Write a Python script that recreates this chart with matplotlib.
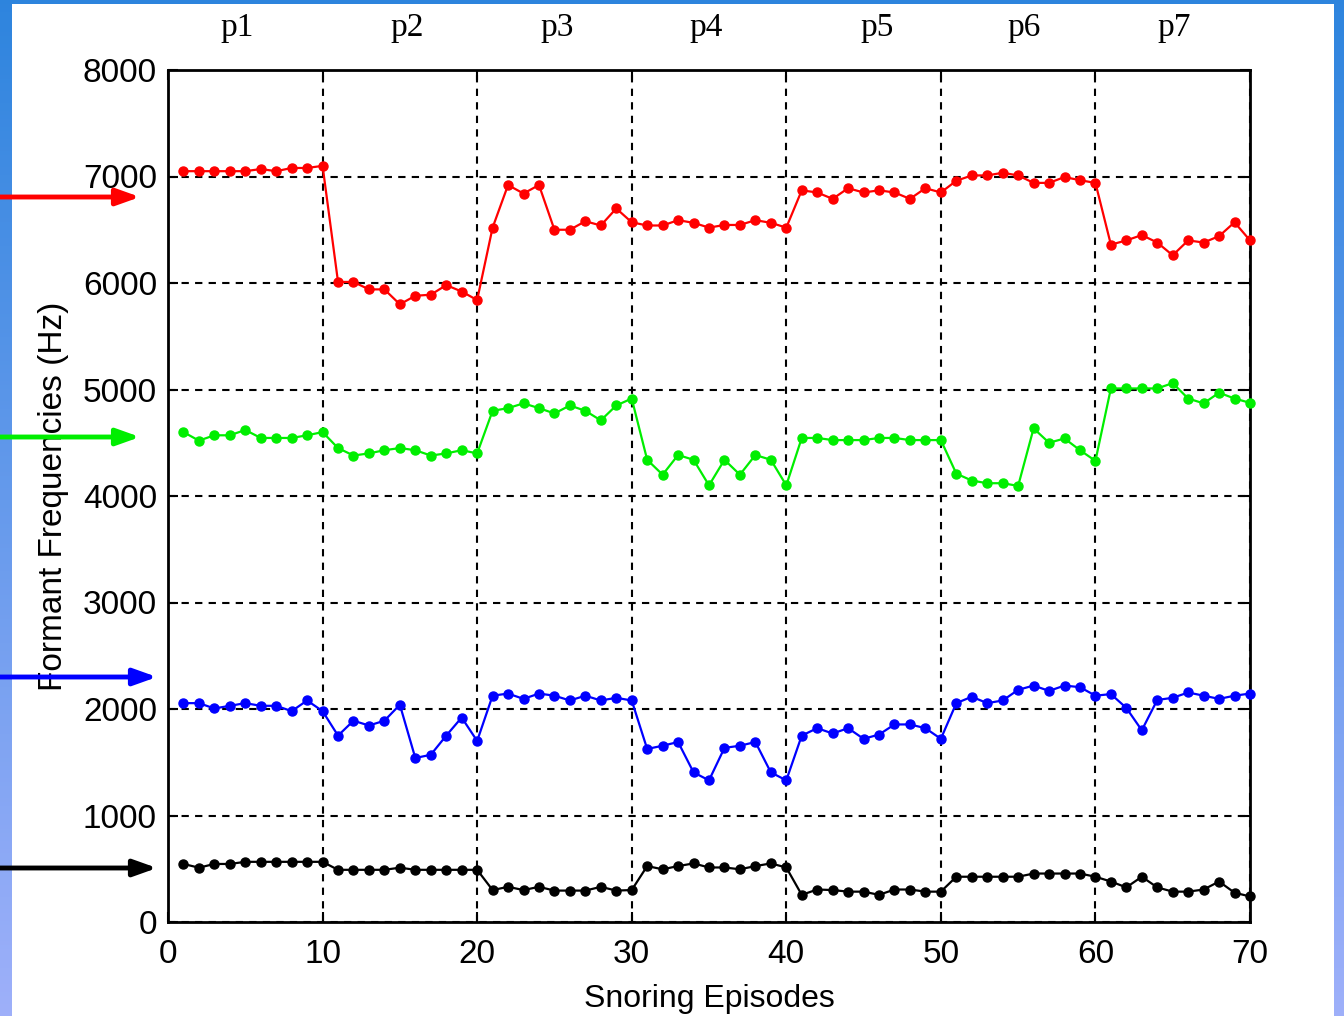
import numpy as np
import matplotlib.pyplot as plt
from matplotlib.patches import Rectangle

# snoring episodes 1..70, formant frequencies
episodes = np.arange(1, 71)

f4_red = [7050, 7050, 7050, 7050, 7050, 7070, 7050, 7080, 7080, 7100,
          6010, 6010, 5940, 5940, 5800, 5880, 5890, 5980, 5920, 5840,
          6520, 6920, 6840, 6920, 6500, 6500, 6580, 6540, 6700, 6570,
          6540, 6540, 6590, 6565, 6520, 6545, 6545, 6590, 6565, 6520,
          6870, 6850, 6790, 6890, 6850, 6870, 6850, 6790, 6890, 6850,
          6960, 7010, 7010, 7035, 7010, 6940, 6940, 6995, 6965, 6940,
          6360, 6400, 6450, 6380, 6260, 6400, 6380, 6440, 6570, 6400]

f3_green = [4600, 4520, 4570, 4570, 4620, 4545, 4545, 4545, 4570, 4600,
            4450, 4380, 4400, 4430, 4450, 4430, 4380, 4400, 4430, 4400,
            4800, 4825, 4870, 4825, 4775, 4850, 4800, 4710, 4850, 4915,
            4340, 4200, 4385, 4340, 4100, 4340, 4200, 4385, 4340, 4100,
            4545, 4545, 4525, 4525, 4525, 4545, 4545, 4525, 4525, 4525,
            4210, 4145, 4120, 4120, 4095, 4635, 4500, 4540, 4430, 4330,
            5010, 5010, 5010, 5010, 5060, 4915, 4870, 4970, 4915, 4875]

f2_blue = [2055, 2055, 2005, 2030, 2055, 2030, 2030, 1980, 2080, 1980,
           1750, 1890, 1845, 1890, 2040, 1540, 1570, 1750, 1920, 1700,
           2125, 2145, 2095, 2145, 2125, 2080, 2125, 2080, 2105, 2080,
           1625, 1655, 1690, 1405, 1330, 1635, 1655, 1690, 1405, 1330,
           1750, 1820, 1770, 1820, 1720, 1760, 1855, 1855, 1820, 1720,
           2055, 2115, 2055, 2080, 2180, 2220, 2170, 2220, 2205, 2125,
           2140, 2010, 1800, 2085, 2105, 2155, 2125, 2095, 2125, 2145]

f1_black = [545, 510, 545, 545, 565, 565, 565, 565, 565, 565,
            490, 490, 490, 490, 510, 490, 490, 490, 490, 490,
            300, 330, 300, 330, 295, 295, 295, 330, 295, 300,
            525, 495, 525, 550, 512, 512, 495, 525, 550, 512,
            255, 305, 300, 285, 285, 255, 305, 305, 285, 285,
            425, 425, 425, 425, 425, 455, 455, 455, 455, 425,
            380, 325, 425, 325, 285, 285, 305, 380, 275, 240]

patients = ["p1", "p2", "p3", "p4", "p5", "p6", "p7"]
patient_x = [4.5, 15.5, 25.2, 34.8, 45.9, 55.4, 65.1]

plt.rcParams["font.family"] = ["Liberation Sans", "DejaVu Sans"]

fig = plt.figure(figsize=(13.44, 10.16), dpi=100)

# blue slide background with white panel
bg = fig.add_axes([0, 0, 1, 1], zorder=-10)
grad = np.linspace(0, 1, 256).reshape(-1, 1)
top_c = np.array([0.18, 0.52, 0.87])
bot_c = np.array([0.62, 0.69, 0.98])
img = top_c[None, None, :] * (1 - grad[:, :, None]) + bot_c[None, None, :] * grad[:, :, None]
bg.imshow(img, aspect="auto", extent=[0, 1, 0, 1], origin="upper")
bg.add_patch(Rectangle((12 / 1344, 0), (1334 - 12) / 1344, 1 - 4 / 1016,
                       facecolor="white", edgecolor="none"))
bg.set_xlim(0, 1)
bg.set_ylim(0, 1)
bg.axis("off")

ax = fig.add_axes([168 / 1344, 1 - 922 / 1016, (1250 - 168) / 1344, (922 - 70) / 1016])
ax.set_facecolor("white")

for vals, col in [(f4_red, "#ff0000"), (f3_green, "#00ee00"),
                  (f2_blue, "#0000ff"), (f1_black, "black")]:
    ax.plot(episodes, vals, "-o", color=col, linewidth=1.6, markersize=6.5,
            clip_on=False, zorder=3)

ax.set_xlim(0, 70)
ax.set_ylim(0, 8000)
ax.set_xticks(range(0, 71, 10))
ax.set_yticks(range(0, 8001, 1000))
ax.grid(True, color="black", linestyle=(0, (3.5, 3)), linewidth=1.5)
ax.tick_params(direction="in", length=7, width=1.5, labelsize=24, pad=8,
               top=True, right=True)
ax.tick_params(axis="x", pad=12)
for s in ax.spines.values():
    s.set_linewidth(2)

ax.set_xlabel("Snoring Episodes", fontsize=23, labelpad=10)
ax.set_ylabel("Formant Frequencies (Hz)", fontsize=24, labelpad=10)

for lab, xp in zip(patients, patient_x):
    ax.text(xp, 8250, lab, ha="center", va="bottom", fontsize=24,
            family=["Liberation Serif", "DejaVu Serif"])

# arrows pointing at the formant tracks
for ypix, xend, col in [(197, 140, "#ff0000"), (437, 140, "#00ee00"),
                        (677, 157, "#0000ff"), (868, 157, "black")]:
    fig.add_artist(plt.Annotation(
        "", xy=(xend, 1016 - ypix), xytext=(0, 1016 - ypix),
        xycoords="figure pixels", textcoords="figure pixels",
        arrowprops=dict(arrowstyle="-|>,head_length=1.4,head_width=0.5",
                        color=col, lw=3.5, shrinkA=0, shrinkB=0),
        zorder=20))

fig.savefig("out.png", dpi=100)
